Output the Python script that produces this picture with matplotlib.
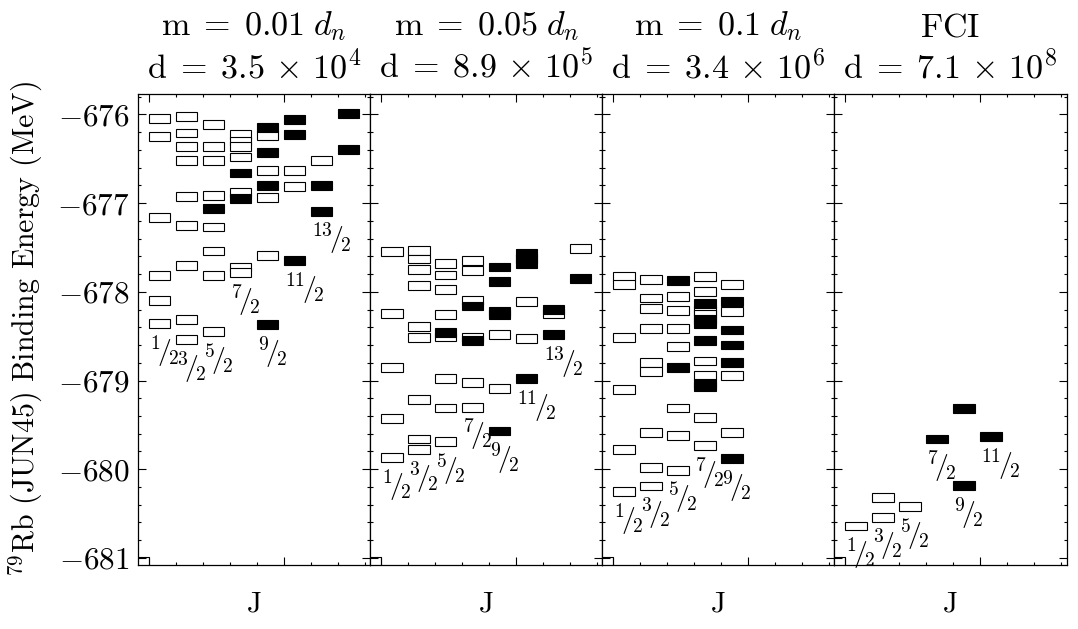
import matplotlib
matplotlib.use('Agg')
import matplotlib.pyplot as plt
from matplotlib.patches import Rectangle
from matplotlib.ticker import MultipleLocator

plt.rcParams['font.family'] = ['cmr10', 'DejaVu Serif']
plt.rcParams['mathtext.fontset'] = 'cm'
plt.rcParams['axes.formatter.use_mathtext'] = True

# ---------------- data: levels (twoJ, energy) ----------------
# panel 1: m = 0.01 d_n
p1_open_2J = [1]*6 + [3]*9 + [5]*8 + [7]*7 + [9]*4 + [11]*2 + [13]*1
p1_open_E = [-676.05, -676.25, -677.16, -677.82, -678.10, -678.36,
             -676.02, -676.21, -676.36, -676.52, -676.93, -677.25, -677.70, -678.31, -678.54,
             -676.11, -676.36, -676.52, -676.91, -677.27, -677.54, -677.82, -678.45,
             -676.23, -676.30, -676.36, -676.48, -676.88, -677.72, -677.78,
             -676.24, -676.63, -676.94, -677.59,
             -676.63, -676.81,
             -676.52]
p1_fill_2J = [5] + [7]*2 + [9]*4 + [11]*3 + [13]*2 + [15]*2
p1_fill_E = [-677.06,
             -676.66, -676.95,
             -676.15, -676.43, -676.80, -678.37,
             -676.06, -676.23, -677.65,
             -676.80, -677.09,
             -675.99, -676.40]

# panel 2: m = 0.05 d_n
p2_open_2J = [1]*5 + [3]*9 + [5]*8 + [7]*6 + [9]*2 + [11]*2 + [13]*1 + [15]*1
p2_open_E = [-677.55, -678.24, -678.85, -679.43, -679.87,
             -677.53, -677.63, -677.75, -677.93, -678.39, -678.52, -679.21, -679.66, -679.78,
             -677.68, -677.81, -677.97, -678.26, -678.51, -678.98, -679.31, -679.69,
             -677.65, -677.76, -678.10, -678.52, -679.02, -679.30,
             -678.48, -679.09,
             -678.11, -678.53,
             -678.24,
             -677.51]
p2_fill_2J = [5] + [7]*2 + [9]*5 + [11]*4 + [13]*2 + [15]*1
p2_fill_E = [-678.46,
             -678.16, -678.55,
             -677.72, -677.88, -678.22, -678.26, -679.57,
             -677.57, -677.62, -677.68, -678.98,
             -678.20, -678.48,
             -677.85]

# panel 3: m = 0.1 d_n
p3_open_2J = [1]*6 + [3]*9 + [5]*7 + [7]*8 + [9]*4
p3_open_E = [-677.83, -677.92, -678.52, -679.10, -679.78, -680.25,
             -677.86, -678.07, -678.19, -678.41, -678.80, -678.90, -679.59, -679.98, -680.19,
             -678.05, -678.21, -678.41, -678.62, -679.31, -679.62, -680.01,
             -677.83, -678.00, -678.21, -678.26, -678.78, -678.94, -679.42, -679.73,
             -677.92, -678.22, -678.94, -679.59]
p3_fill_2J = [5]*2 + [7]*6 + [9]*5
p3_fill_E = [-677.87, -678.85,
             -678.13, -678.31, -678.36, -678.55, -679.03, -679.07,
             -678.11, -678.43, -678.60, -678.80, -679.88]

# panel 4: FCI
p4_open_2J = [1, 3, 3, 5]
p4_open_E = [-680.64, -680.32, -680.54, -680.42]
p4_fill_2J = [7, 9, 9, 11]
p4_fill_E = [-679.66, -679.32, -680.18, -679.63]

ghost_2J = 0
ghost_E = -681.04

titles = [r'$\mathrm{m}\;=\;0.01\;d_n$' + '\n' + r'$\mathrm{d}\;=\;3.5\,\times\,10^{4}$',
          r'$\mathrm{m}\;=\;0.05\;d_n$' + '\n' + r'$\mathrm{d}\;=\;8.9\,\times\,10^{5}$',
          r'$\mathrm{m}\;=\;0.1\;d_n$' + '\n' + r'$\mathrm{d}\;=\;3.4\,\times\,10^{6}$',
          r'$\mathrm{FCI}$' + '\n' + r'$\mathrm{d}\;=\;7.1\,\times\,10^{8}$']
max_label_2J = 13

panels = [(p1_open_2J, p1_open_E, p1_fill_2J, p1_fill_E),
          (p2_open_2J, p2_open_E, p2_fill_2J, p2_fill_E),
          (p3_open_2J, p3_open_E, p3_fill_2J, p3_fill_E),
          (p4_open_2J, p4_open_E, p4_fill_2J, p4_fill_E)]

BW, BH = 0.8, 0.1
FS = 20

fig = plt.figure(figsize=(10.78, 6.29), dpi=100)
left, bottom = 138/1078, 1 - 565/629
totw, height = (1066.5 - 138)/1078, (565 - 94)/629
w = totw/4

def xpos(twoJ):
    return (twoJ - 1)/2

for k, (oJ, oE, fJ, fE) in enumerate(panels):
    ax = fig.add_axes([left + k*w, bottom, w, height])
    ax.set_xlim(-0.4, 8.2)
    ax.set_ylim(-681.08, -675.77)
    # partly hidden box at the lower-left corner
    ax.add_patch(Rectangle((xpos(ghost_2J + 1) - BW, ghost_E - BH/2), BW, BH,
                           facecolor='white', edgecolor='black', lw=0.8))
    for j, e in zip(oJ, oE):
        ax.add_patch(Rectangle((xpos(j), e - BH/2), BW, BH,
                               facecolor='white', edgecolor='black', lw=0.8))
    for j, e in zip(fJ, fE):
        ax.add_patch(Rectangle((xpos(j), e - BH/2), BW, BH,
                               facecolor='black', edgecolor='black', lw=0.8))
    # spin labels below lowest level in each column
    allJ = list(oJ) + list(fJ)
    allE = list(oE) + list(fE)
    for j in sorted(set(allJ)):
        if j > max_label_2J:
            continue
        emin = min(e for jj, e in zip(allJ, allE) if jj == j)
        ax.text(xpos(j), emin - 0.11, r'$^{%d}\!/\!_{2}$' % j, ha='left', va='top',
                fontsize=FS)
    ax.xaxis.set_major_locator(MultipleLocator(5))
    ax.xaxis.set_minor_locator(MultipleLocator(1))
    ax.yaxis.set_major_locator(MultipleLocator(1))
    ax.yaxis.set_minor_locator(MultipleLocator(0.2))
    ax.tick_params(which='both', direction='in', top=True, right=True, width=0.8)
    ax.tick_params(which='major', length=5.8)
    ax.tick_params(which='minor', length=2.5)
    ax.tick_params(axis='y', labelsize=22.5, pad=6)
    ax.set_xticklabels([])
    if k > 0:
        ax.set_yticklabels([])
    for s in ax.spines.values():
        s.set_linewidth(0.9)
    ax.set_xlabel('J', fontsize=21, labelpad=15)
    ax.set_title(titles[k], fontsize=24.5, pad=12, linespacing=1.2)
    if k == 0:
        ax.set_ylabel(r'$^{79}$Rb (JUN45) Binding Energy (MeV)', fontsize=21.5, labelpad=9)

fig.savefig('out.png', dpi=100)
